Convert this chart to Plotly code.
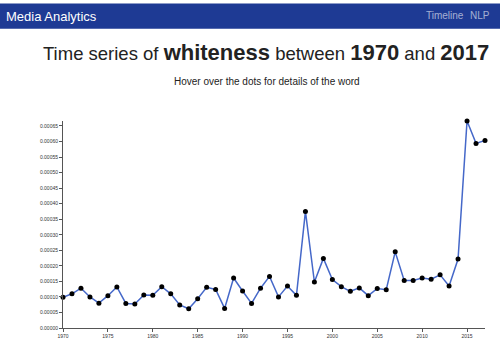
import plotly.graph_objects as go

years = list(range(1970, 2018))
values = [
    0.000099, 0.000110, 0.000128, 0.000100, 0.000080, 0.000104, 0.000132, 0.000079,
    0.000077, 0.000106, 0.000105, 0.000133, 0.000110, 0.000074, 0.000062, 0.000094,
    0.000131, 0.000124, 0.000063, 0.000161, 0.000119, 0.000079, 0.000128, 0.000166,
    0.000100, 0.000135, 0.000105, 0.000375, 0.000148, 0.000224, 0.000156, 0.000133,
    0.000118, 0.000129, 0.000104, 0.000127, 0.000123, 0.000245, 0.000153, 0.000153,
    0.000161, 0.000157, 0.000171, 0.000135, 0.000222, 0.000666, 0.000594, 0.000603,
]
y_ticks = [i * 0.00005 for i in range(14)]
x_ticks = list(range(1970, 2016, 5))

W, H = 500, 351
L, R, T, B = 63, 15, 121, 17

fig = go.Figure()
fig.add_trace(go.Scatter(
    x=years, y=values, mode="lines+markers",
    line=dict(color="#4568c9", width=1.5),
    marker=dict(color="black", size=5),
    hoverinfo="x+y", cliponaxis=False,
))

def py(pix):
    return (H - B - pix) / (H - T - B)

def px(pix):
    return (pix - L) / (W - L - R)

fig.add_shape(type="rect", xref="paper", yref="paper",
              x0=px(0), x1=px(W), y0=py(26), y1=py(0),
              fillcolor="#1e3a94", line=dict(width=0), layer="below")

font_family = "Liberation Sans, Arial, sans-serif"
fig.add_annotation(xref="paper", yref="paper", x=px(4), y=py(13), xanchor="left", yanchor="middle",
                   text="Media Analytics", showarrow=False,
                   font=dict(family=font_family, size=13, color="white"))
fig.add_annotation(xref="paper", yref="paper", x=px(466), y=py(12), xanchor="right", yanchor="middle",
                   text="Timeline", showarrow=False,
                   font=dict(family=font_family, size=10, color="rgba(255,255,255,0.6)"))
fig.add_annotation(xref="paper", yref="paper", x=px(492), y=py(12), xanchor="right", yanchor="middle",
                   text="NLP", showarrow=False,
                   font=dict(family=font_family, size=10, color="rgba(255,255,255,0.6)"))

title = ("Time series of <b><span style='font-size:22px'>whiteness</span></b> between "
         "<b><span style='font-size:22px'>1970</span></b> and "
         "<b><span style='font-size:22px'>2017</span></b>")
fig.add_annotation(xref="paper", yref="paper", x=px(266), y=py(50), xanchor="center", yanchor="middle",
                   text=title, showarrow=False,
                   font=dict(family=font_family, size=18.5, color="#222222"))
fig.add_annotation(xref="paper", yref="paper", x=px(267), y=py(80), xanchor="center", yanchor="middle",
                   text="Hover over the dots for details of the word", showarrow=False,
                   font=dict(family=font_family, size=10, color="#222222"))

fig.update_layout(
    width=W, height=H,
    margin=dict(l=L, r=R, t=T, b=B, pad=0),
    paper_bgcolor="white", plot_bgcolor="white",
    showlegend=False,
)
fig.update_xaxes(range=[1970, 2017], tickvals=x_ticks, ticktext=[str(v) for v in x_ticks],
                 showgrid=False, zeroline=False, showline=True, linecolor="#555", linewidth=1,
                 ticks="outside", ticklen=3, tickcolor="#555",
                 tickfont=dict(family=font_family, size=5, color="#333"))
fig.update_yaxes(range=[0, 0.000666], tickvals=y_ticks, ticktext=[f"{v:.5f}" for v in y_ticks],
                 showgrid=False, zeroline=False, showline=True, linecolor="#555", linewidth=1,
                 ticks="outside", ticklen=3, tickcolor="#555",
                 tickfont=dict(family=font_family, size=5, color="#333"))

fig.write_html("out.html")
